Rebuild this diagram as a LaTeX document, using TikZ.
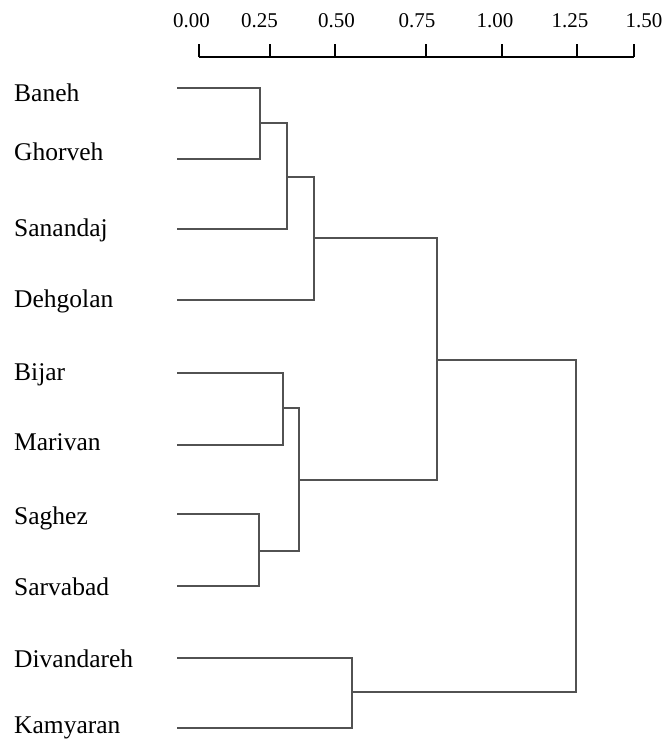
\documentclass[tikz,border=0pt]{standalone}
\usepackage{fontspec}
\setmainfont{Liberation Serif}
\begin{document}
\begin{tikzpicture}[x=1pt,y=-1pt,
  leaflabel/.style={anchor=base west,inner sep=0pt,font=\fontsize{25.5}{28}\selectfont},
  axislabel/.style={anchor=base,inner sep=0pt,font=\fontsize{21}{24}\selectfont},
  branch/.style={draw=black!68,line width=1.8pt,line cap=butt,line join=miter},
  axisline/.style={draw=black,line width=1.9pt}]
\useasboundingbox (0,0) rectangle (667,740);
% axis
\foreach \v/\cx/\tx [count=\i] in {0.00/191.5/199,0.25/259.5/270,0.50/336.5/335,0.75/417/426,1.00/495/502,1.25/570/577,1.50/644/634}{
  \node[axislabel] (al\i) at (\cx,27) {\v};
  \coordinate (t\i) at (\tx,57);
  \coordinate (tt\i) at (\tx,44);
  \draw[axisline] (t\i) -- (tt\i);
}
\draw[axisline] (t1) -- (t7);
% labels
\foreach \n/\b [count=\i] in {Baneh/101,Ghorveh/160,Sanandaj/236,Dehgolan/307,Bijar/380,Marivan/450,Saghez/524,Sarvabad/595,Divandareh/667,Kamyaran/733}{
  \node[leaflabel] (lab\i) at (14,\b) {\n};
}
% leaf starts
\coordinate (L1) at (177,88);
\coordinate (L2) at (177,159);
\coordinate (L3) at (177,229);
\coordinate (L4) at (177,300);
\coordinate (L5) at (177,373);
\coordinate (L6) at (177,445);
\coordinate (L7) at (177,514);
\coordinate (L8) at (177,586);
\coordinate (L9) at (177,658);
\coordinate (L10) at (177,728);
% merges
\coordinate (m12) at (260,123);
\coordinate (m123) at (287,177);
\coordinate (m1234) at (314,238);
\coordinate (m56) at (283,408);
\coordinate (m78) at (259,551);
\coordinate (m5678) at (299,480);
\coordinate (mA) at (437,360);
\coordinate (m910) at (352,692);
\coordinate (root) at (576,526);
% branches
\draw[branch] (L1) -| (m12) |- (L2);
\draw[branch] (m12) -| (m123) |- (L3);
\draw[branch] (m123) -| (m1234) |- (L4);
\draw[branch] (L5) -| (m56) |- (L6);
\draw[branch] (L7) -| (m78) |- (L8);
\draw[branch] (m56) -| (m5678) |- (m78);
\draw[branch] (m1234) -| (mA) |- (m5678);
\draw[branch] (L9) -| (m910) |- (L10);
\draw[branch] (mA) -| (root) |- (m910);
\end{tikzpicture}
\end{document}
